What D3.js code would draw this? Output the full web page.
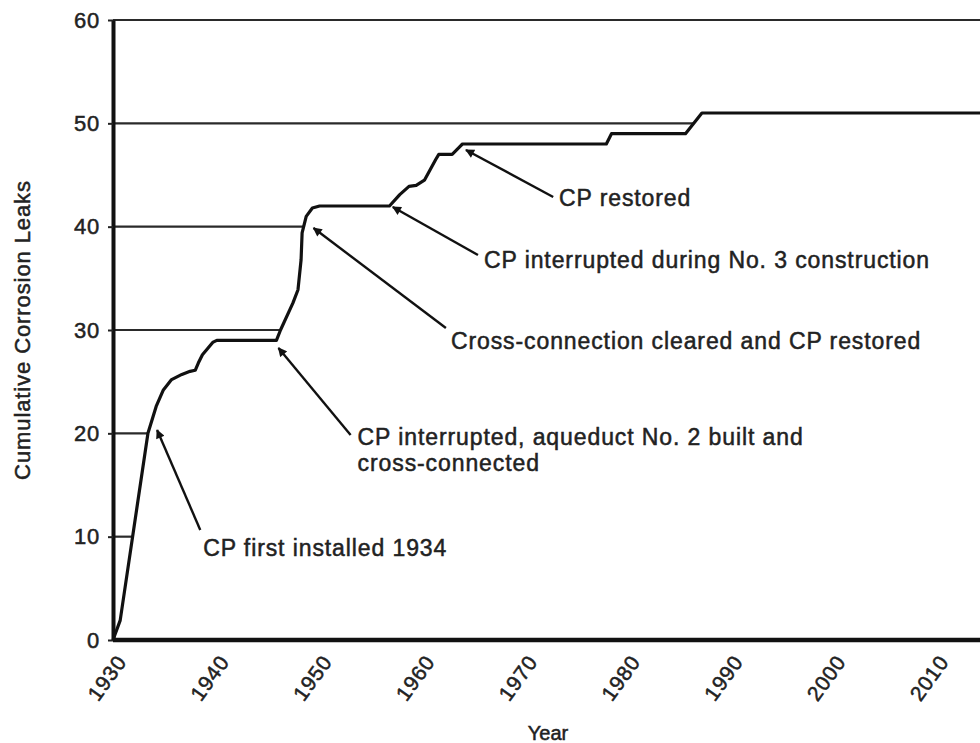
<!DOCTYPE html>
<html>
<head>
<meta charset="utf-8">
<script src="https://cdn.jsdelivr.net/npm/d3@7"></script>
<style>
  body { margin: 0; background: #fff; }
  svg text { font-family: "Liberation Sans", Arial, sans-serif; fill: #222; stroke: #222; stroke-width: 0.5px; }
</style>
</head>
<body>
<svg width="980" height="743"></svg>
<script>
// cumulative corrosion leaks
var years = [1930, 1930.7, 1933.4, 1934.2, 1934.9, 1935.7, 1936.7, 1937.5, 1938.0, 1938.3,
             1938.7, 1939.7, 1940.1, 1945.9, 1946.3, 1947.5, 1948.0, 1948.3, 1948.4, 1948.8,
             1949.4, 1950.1, 1956.9, 1957.9, 1958.8, 1959.5, 1960.3, 1961.4, 1961.7, 1963.0,
             1963.7, 1964.0, 1978.0, 1978.5, 1985.7, 1987.3, 1987.7, 2020];
var leaks = [0, 1.9, 20, 22.6, 24.2, 25.2, 25.7, 26, 26.1, 26.8,
             27.6, 28.8, 29, 29, 30, 32.6, 33.9, 36.8, 39.4, 41,
             41.8, 42, 42, 43.1, 43.9, 44, 44.5, 46.5, 47, 47,
             47.7, 48, 48, 49, 49, 51, 51, 51];

var yTicks = [0, 10, 20, 30, 40, 50, 60];
var xTicks = [1930, 1940, 1950, 1960, 1970, 1980, 1990, 2000, 2010];

// annotations: text lines, arrow tip, arrow tail, label anchor (year, leaks)
var annoText = [
  ["CP first installed 1934"],
  ["CP interrupted, aqueduct No. 2 built and", "cross-connected"],
  ["Cross-connection cleared and CP restored"],
  ["CP interrupted during No. 3 construction"],
  ["CP restored"]
];
var annoTip = [[1934.29, 20.32], [1946.1, 28.26], [1949.51, 39.87], [1957.22, 41.9], [1964.34, 47.42]];
var annoTail = [[1938.49, 10.65], [1953.12, 19.84], [1962.39, 30.19], [1965.51, 37.26], [1972.83, 42.87]];
var annoLabel = [[1938.78, 8.9], [1953.8, 19.65], [1962.88, 29.0], [1966.1, 36.8], [1973.4, 42.8]];

var svg = d3.select("svg");
var x = d3.scaleLinear().domain([1930, 2020]).range([113, 1038]);
var y = d3.scaleLinear().domain([0, 60]).range([640, 20]);

var points = years.map(function(d, i) { return [d, leaks[i]]; });

// where the curve first reaches a level
function crossYear(v) {
  for (var i = 1; i < points.length; i++) {
    if (points[i][1] >= v) {
      var a = points[i - 1], b = points[i];
      return a[0] + (v - a[1]) / (b[1] - a[1]) * (b[0] - a[0]);
    }
  }
  return 2020;
}

// gridlines run from the axis up to the curve
svg.append("g").selectAll("line")
  .data(yTicks.filter(function(d) { return d > 0; }))
  .join("line")
  .attr("x1", x(1930))
  .attr("x2", function(d) { return d === 60 ? 980 : x(crossYear(d)); })
  .attr("y1", function(d) { return y(d); })
  .attr("y2", function(d) { return y(d); })
  .attr("stroke", "#2a2a2a")
  .attr("stroke-width", 2.2);

// y axis
var yAxis = svg.append("g")
  .attr("transform", "translate(" + x(1930) + ",0)")
  .call(d3.axisLeft(y).tickValues(yTicks).tickSize(5).tickPadding(8).tickSizeOuter(0));
yAxis.select(".domain").attr("stroke", "#111").attr("stroke-width", 4);
yAxis.selectAll(".tick line").attr("stroke", "#222").attr("stroke-width", 2);
yAxis.selectAll(".tick text")
  .style("font-size", "22px").style("letter-spacing", "0.8px").attr("fill", "#222");

// x axis
var xAxis = svg.append("g")
  .attr("transform", "translate(0," + y(0) + ")")
  .call(d3.axisBottom(x).tickValues(xTicks).tickSize(0).tickSizeOuter(0).tickFormat(d3.format("d")));
xAxis.select(".domain").attr("stroke", "#111").attr("stroke-width", 4.5)
  .attr("d", "M" + x(1930) + ",0H980");
xAxis.selectAll(".tick text")
  .style("font-size", "21px").style("letter-spacing", "0.8px").attr("fill", "#222")
  .attr("text-anchor", "end")
  .attr("dy", null).attr("y", 0)
  .attr("transform", "translate(14,22) rotate(-54)");

// the curve
svg.append("path")
  .datum(points)
  .attr("fill", "none")
  .attr("stroke", "#111")
  .attr("stroke-width", 3.2)
  .attr("stroke-linejoin", "round")
  .attr("d", d3.line().x(function(d) { return x(d[0]); }).y(function(d) { return y(d[1]); }));

// arrows
svg.append("defs").append("marker")
  .attr("id", "head")
  .attr("viewBox", "0 0 10 10")
  .attr("refX", 9).attr("refY", 5)
  .attr("markerWidth", 11).attr("markerHeight", 9)
  .attr("markerUnits", "userSpaceOnUse")
  .attr("orient", "auto")
  .append("path").attr("d", "M0,0L10,5L0,10Z").attr("fill", "#111");

svg.append("g").selectAll("line")
  .data(annoTip)
  .join("line")
  .attr("x1", function(d, i) { return x(annoTail[i][0]); })
  .attr("y1", function(d, i) { return y(annoTail[i][1]); })
  .attr("x2", function(d) { return x(d[0]); })
  .attr("y2", function(d) { return y(d[1]); })
  .attr("stroke", "#111")
  .attr("stroke-width", 2.4)
  .attr("marker-end", "url(#head)");

var labels = svg.append("g").selectAll("text")
  .data(annoText)
  .join("text")
  .attr("x", function(d, i) { return x(annoLabel[i][0]); })
  .attr("y", function(d, i) { return y(annoLabel[i][1]); })
  .style("font-size", "23px")
  .style("letter-spacing", "0.9px");
labels.selectAll("tspan")
  .data(function(d, i) { return d.map(function(t) { return { t: t, i: i }; }); })
  .join("tspan")
  .attr("x", function(d) { return x(annoLabel[d.i][0]); })
  .attr("dy", function(d, j) { return j === 0 ? "0.36em" : "26px"; })
  .text(function(d) { return d.t; });

// axis titles
svg.append("text")
  .attr("transform", "translate(30,330) rotate(-90)")
  .attr("text-anchor", "middle")
  .style("font-size", "22px")
  .style("letter-spacing", "0.9px")
  .text("Cumulative Corrosion Leaks");

svg.append("text")
  .attr("x", 548).attr("y", 740)
  .attr("text-anchor", "middle")
  .style("font-size", "20px")
  .text("Year");
</script>
</body>
</html>
